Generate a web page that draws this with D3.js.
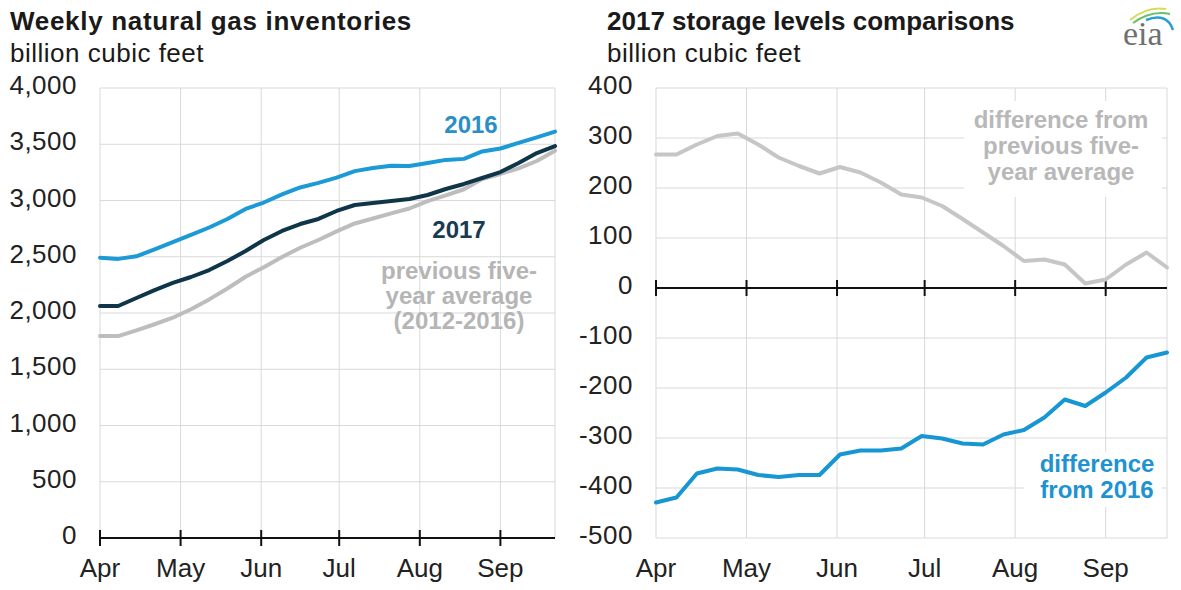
<!DOCTYPE html>
<meta charset="utf-8">
<head>
<title>Natural gas storage 2017</title>
<script src="https://d3js.org/d3.v7.min.js"></script>
<style>
  body { margin: 0; background: #fff; }
  text { font-family: "Liberation Sans", Arial, sans-serif; }
</style>
</head>
<body>
<div id="chart"></div>
<script>

// weekly report dates (week ending)
var weeks = ["2017-03-31","2017-04-07","2017-04-14","2017-04-21","2017-04-28","2017-05-05",
  "2017-05-12","2017-05-19","2017-05-26","2017-06-02","2017-06-09","2017-06-16","2017-06-23",
  "2017-06-30","2017-07-07","2017-07-14","2017-07-21","2017-07-28","2017-08-04","2017-08-11",
  "2017-08-18","2017-08-25","2017-09-01","2017-09-08","2017-09-15","2017-09-22"];

var monthLabels = ["Apr","May","Jun","Jul","Aug","Sep"];
var monthStarts = ["2017-03-31","2017-05-01","2017-06-01","2017-07-01","2017-08-01","2017-09-01"];

// left panel, billion cubic feet
var stock2016 = [2491,2481,2504,2565,2630,2694,2760,2836,2925,2982,3054,3116,3157,3203,
  3261,3289,3309,3306,3333,3361,3370,3436,3462,3512,3561,3613];
var stock2017 = [2062,2062,2133,2204,2267,2320,2382,2462,2551,2649,2729,2791,2836,2907,
  2960,2978,2996,3013,3049,3102,3147,3200,3253,3333,3422,3484];
var stockAvg = [1795,1795,1846,1900,1958,2033,2121,2218,2322,2407,2498,2580,2649,2726,
  2796,2840,2885,2929,2995,3045,3100,3191,3236,3286,3351,3443];

// right panel, billion cubic feet
var diffAvg = [267,267,287,304,309,287,261,244,229,242,231,211,187,181,164,138,111,84,
  54,57,47,9,17,47,71,41];
var diff2016 = [-429,-419,-371,-361,-363,-374,-378,-374,-374,-333,-325,-325,-321,-296,
  -301,-311,-313,-293,-284,-259,-223,-236,-209,-179,-139,-129];

var leftTicks = [0,500,1000,1500,2000,2500,3000,3500,4000];
var rightTicks = [-500,-400,-300,-200,-100,0,100,200,300,400];

var parse = d3.timeParse("%Y-%m-%d");
var dates = weeks.map(parse);
var tickDates = monthStarts.map(parse);

var svg = d3.select("#chart").append("svg")
  .attr("width", 1181)
  .attr("height", 590);

svg.append("rect").attr("width", 1181).attr("height", 590).style("fill", "#fff");

var gridColor = "#d9d9d9";
var fmt = function(d) { return d3.format(",")(d).replace("\u2212", "-"); };

function panel(opt) {
  var x = d3.scaleTime().domain([dates[0], dates[dates.length - 1]]).range([opt.x0, opt.x1]);
  var y = d3.scaleLinear().domain(opt.domain).range([538, 88]);
  var g = svg.append("g");

  // titles
  g.append("text").attr("x", opt.tx).attr("y", 30)
    .style("font-size", "26px").style("font-weight", "bold").style("fill", "#1a1a1a")
    .style("letter-spacing", opt.ls)
    .text(opt.title);
  g.append("text").attr("x", opt.tx).attr("y", 62)
    .style("font-size", "26px").style("fill", "#1a1a1a")
    .style("letter-spacing", "0.5px")
    .text("billion cubic feet");

  // horizontal grid
  g.selectAll(".hgrid").data(opt.ticks.filter(function(d) { return d !== opt.zero; }))
    .enter().append("line")
    .attr("x1", opt.x0).attr("x2", opt.x1)
    .attr("y1", function(d) { return y(d); }).attr("y2", function(d) { return y(d); })
    .style("stroke", gridColor).style("stroke-width", 1);

  // vertical grid
  g.selectAll(".vgrid").data(tickDates.concat([x.domain()[1]]))
    .enter().append("line")
    .attr("x1", function(d) { return x(d); }).attr("x2", function(d) { return x(d); })
    .attr("y1", 88).attr("y2", 538)
    .style("stroke", gridColor).style("stroke-width", 1);

  // y labels
  g.selectAll(".ylab").data(opt.ticks)
    .enter().append("text")
    .attr("x", opt.x0 - 23)
    .attr("y", function(d) { return y(d) + 6; })
    .attr("text-anchor", "end")
    .style("font-size", "26px").style("fill", "#222")
    .style("letter-spacing", "0.5px")
    .text(function(d) { return fmt(d); });

  // month labels
  g.selectAll(".xlab").data(tickDates)
    .enter().append("text")
    .attr("x", function(d) { return x(d); })
    .attr("y", 577)
    .attr("text-anchor", "middle")
    .style("font-size", "26px").style("fill", "#222")
    .text(function(d, i) { return monthLabels[i]; });

  return { g: g, x: x, y: y };
}

var L = panel({ x0: 100, x1: 555, tx: 10, domain: [0, 4000], ticks: leftTicks, zero: 0,
  ls: "0.7px", title: "Weekly natural gas inventories" });
var R = panel({ x0: 656, x1: 1167, tx: 607, domain: [-500, 400], ticks: rightTicks, zero: 0,
  ls: "0px", title: "2017 storage levels comparisons" });

function zeroAxis(p) {
  var y0 = p.y(0);
  p.g.append("line")
    .attr("x1", p.x.range()[0]).attr("x2", p.x.range()[1])
    .attr("y1", y0).attr("y2", y0)
    .style("stroke", "#111").style("stroke-width", 2);
  p.g.selectAll(".tk").data(tickDates).enter().append("line")
    .attr("x1", function(d) { return p.x(d); }).attr("x2", function(d) { return p.x(d); })
    .attr("y1", y0 - 8).attr("y2", y0 + 8)
    .style("stroke", "#111").style("stroke-width", 2);
}

function label(g, lines, cx, y0, step, color, box) {
  if (box) {
    g.append("rect").attr("x", box[0]).attr("y", box[1]).attr("width", box[2]).attr("height", box[3])
      .style("fill", "#fff");
  }
  lines.forEach(function(t, i) {
    g.append("text").attr("x", cx).attr("y", y0 + i * step)
      .attr("text-anchor", "middle")
      .style("font-size", "24px").style("font-weight", "bold").style("fill", color)
      .text(t);
  });
}

function series(p, values, color, w) {
  var line = d3.line()
    .x(function(d, i) { return p.x(dates[i]); })
    .y(function(d) { return p.y(d); });
  p.g.append("path").datum(values)
    .attr("d", line)
    .style("fill", "none").style("stroke", color)
    .style("stroke-width", w).style("stroke-linejoin", "round").style("stroke-linecap", "round");
}

// left panel
zeroAxis(L);
series(L, stockAvg, "#bdbdbd", 4);
series(L, stock2017, "#0f3548", 4);
series(L, stock2016, "#1c9ad6", 4);
label(L.g, ["2016"], 471, 133, 25, "#2a8fc6");
label(L.g, ["2017"], 459, 238, 25, "#183b50");
label(L.g, ["previous five-", "year average", "(2012-2016)"], 459, 279, 25, "#b5b5b5");

// right panel
zeroAxis(R);
label(R.g, ["difference from", "previous five-", "year average"], 1061, 128, 26, "#b8b8b8",
  [964, 101, 198, 96]);
label(R.g, ["difference", "from 2016"], 1097, 472, 26, "#1e93d0", [1024, 452, 138, 55]);
series(R, diffAvg, "#c6c6c6", 4);
series(R, diff2016, "#1796d4", 4);

// eia logo
var logo = svg.append("g");
logo.append("path").attr("d", "M1130,20 Q1147,6 1166,9")
  .style("fill", "none").style("stroke", "#d6dc5a").style("stroke-width", 2);
logo.append("path").attr("d", "M1133,23 Q1151,10 1170,14")
  .style("fill", "none").style("stroke", "#6cbf6a").style("stroke-width", 2);
logo.append("path").attr("d", "M1146,20 Q1167,12 1173,30")
  .style("fill", "none").style("stroke", "#2a9fd6").style("stroke-width", 2.5);
logo.append("text").attr("x", 1123).attr("y", 45)
  .style("font-family", "'Liberation Serif', 'DejaVu Serif', serif")
  .style("font-size", "34px").style("fill", "#707070")
  .text("eia");

</script>
</body>
